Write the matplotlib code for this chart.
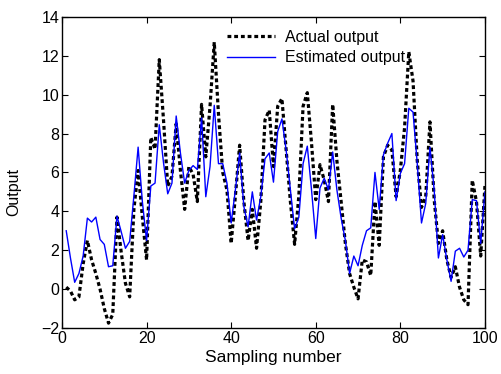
import matplotlib
matplotlib.use("Agg")
import matplotlib.pyplot as plt
import numpy as np

plt.rcParams['font.family'] = ['Liberation Sans', 'DejaVu Sans']

# sampling index
samples = np.arange(1, 101)

actual = [0.1, -0.1, -0.55, -0.4, 1.3, 2.5, 1.5, 0.8, 0.0, -1.0,
          -1.75, -1.3, 3.7, 1.9, 0.3, -0.4, 4.1, 6.1, 3.7, 1.5,
          7.8, 7.2, 11.8, 8.7, 5.3, 5.8, 8.5, 6.1, 4.1, 6.3,
          5.9, 4.5, 9.5, 6.8, 9.4, 12.7, 9.0, 6.0, 5.1, 2.35,
          4.8, 7.4, 4.5, 2.5, 4.1, 2.1, 4.5, 8.7, 9.2, 6.3,
          9.4, 9.8, 7.15, 4.5, 2.3, 4.8, 9.4, 10.1, 7.5, 4.6,
          6.4, 5.6, 4.5, 9.5, 6.6, 4.5, 2.35, 0.8, 0.1, -0.5,
          1.5, 1.4, 0.7, 4.5, 2.25, 6.8, 7.4, 7.15, 4.75, 6.1,
          8.3, 12.2, 10.7, 6.6, 4.2, 4.75, 8.6, 4.6, 2.35, 3.0,
          1.5, 0.6, 1.15, 0.1, -0.55, -0.8, 5.6, 4.5, 1.7, 5.3]

estimated = [3.0, 1.6, 0.35, 0.8, 1.7, 3.65, 3.45, 3.7, 2.55, 2.3,
             1.15, 1.2, 3.75, 2.95, 2.1, 2.45, 4.8, 7.3, 4.5, 2.5,
             5.3, 5.45, 8.45, 6.5, 4.9, 5.45, 8.9, 7.0, 5.45, 6.1,
             6.35, 6.15, 8.8, 4.75, 6.3, 9.45, 6.45, 6.45, 5.45, 3.4,
             5.1, 7.0, 4.25, 3.2, 5.0, 3.55, 4.75, 6.7, 7.0, 5.5,
             8.1, 8.75, 7.15, 5.1, 3.1, 3.7, 6.45, 7.35, 5.1, 2.6,
             5.2, 5.7, 5.1, 7.05, 5.1, 3.65, 2.5, 0.8, 1.7, 1.2,
             2.25, 3.0, 3.15, 6.0, 4.1, 6.9, 7.5, 8.0, 4.55, 5.95,
             6.45, 9.3, 9.1, 6.45, 3.4, 4.4, 7.3, 5.1, 1.6, 2.8,
             1.5, 0.4, 1.95, 2.1, 1.65, 2.0, 4.6, 4.55, 2.35, 5.0]

fig = plt.figure(figsize=(5.02, 3.74), dpi=100)
ax = fig.add_axes([0.1235, 0.123, 0.8425, 0.832])

ax.plot(samples, actual, color='k', linestyle=(0, (1.2, 0.9)), linewidth=2.3,
        label='Actual output')
ax.plot(samples, estimated, color='#0000ff', linewidth=1.0,
        label='Estimated output')

ax.set_xlim(0, 100)
ax.set_ylim(-2, 14)
ax.set_xticks(np.arange(0, 101, 20))
ax.set_yticks(np.arange(-2, 15, 2))
ax.tick_params(direction='in', top=True, right=True, labelsize=11.5, length=4, pad=2)
for s in ax.spines.values():
    s.set_linewidth(1.0)

ax.set_xlabel('Sampling number', fontsize=12.5, labelpad=3)
ax.set_ylabel('Output', fontsize=11.5)
ax.yaxis.set_label_coords(-0.097, 0.437)

ax.legend(loc='upper left', bbox_to_anchor=(0.357, 1.005), frameon=False,
          fontsize=11.5, handlelength=3.0, labelspacing=0.35, handletextpad=0.6)

fig.savefig('out.png', dpi=100)
